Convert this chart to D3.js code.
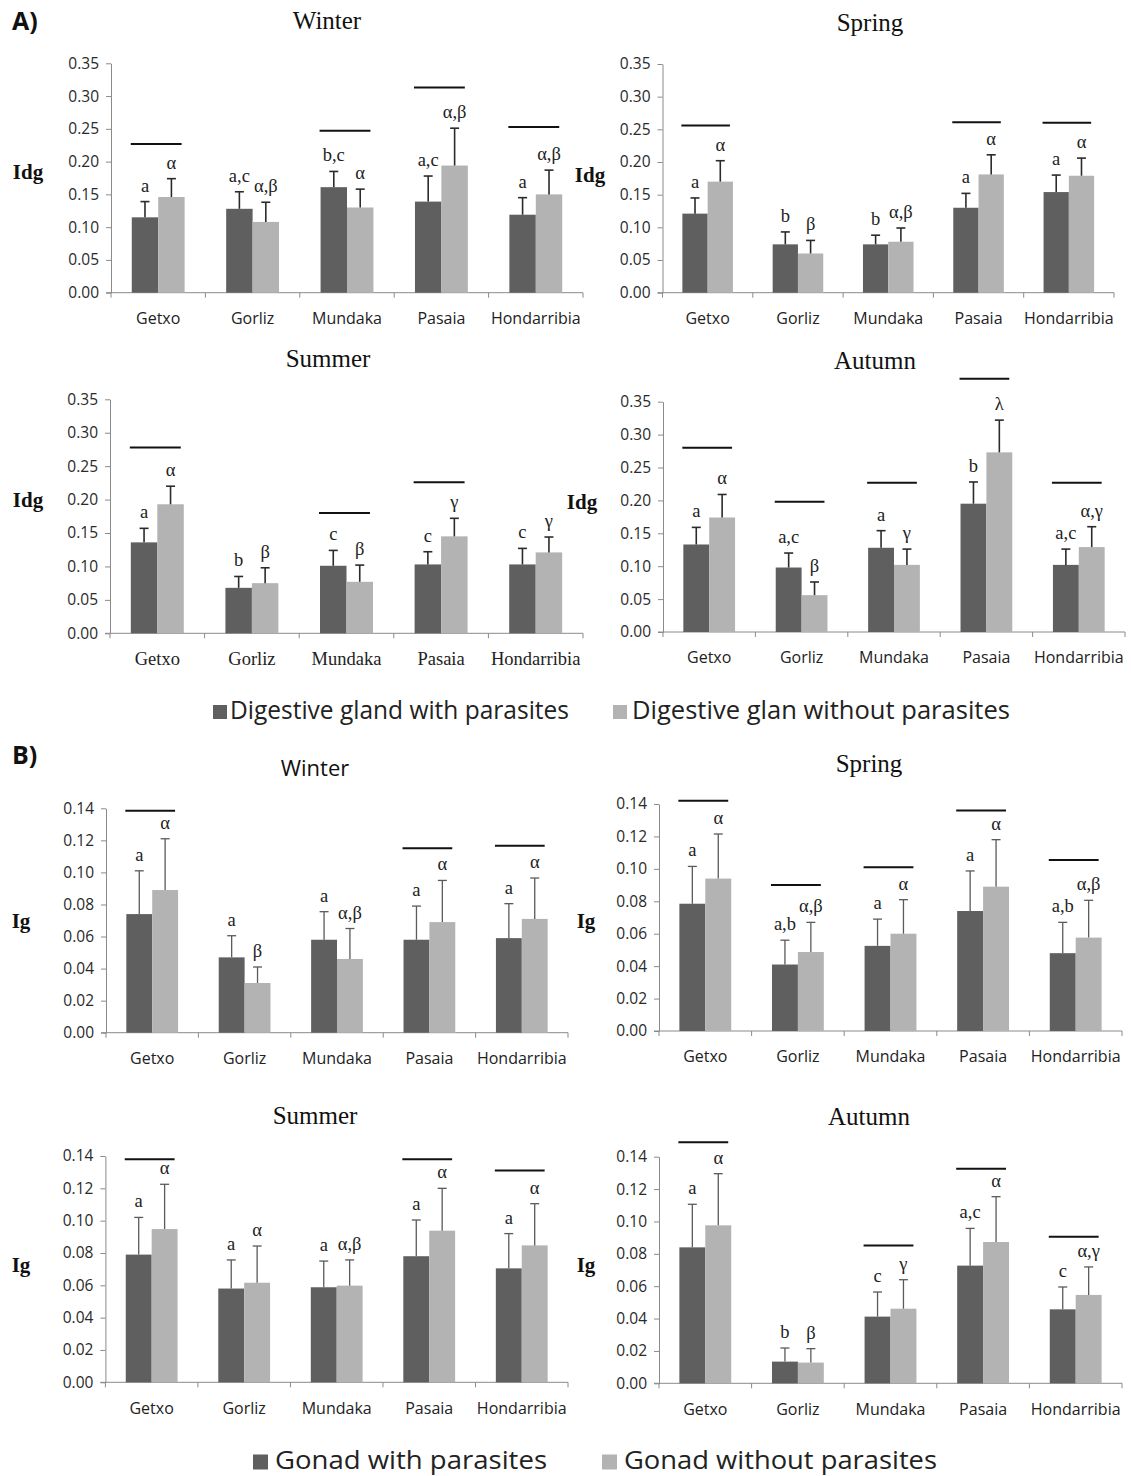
<!DOCTYPE html>
<html>
<head>
<meta charset="utf-8">
<script src="https://cdn.jsdelivr.net/npm/d3@7"></script>
<style>
  body { margin: 0; background: #fff; }
  svg { display: block; }
</style>
</head>
<body>
<div id="container"></div>
<script>
const sites = ["Getxo", "Gorliz", "Mundaka", "Pasaia", "Hondarribia"];
const seasons = ["Winter", "Spring", "Summer", "Autumn"];
const groups = ["with", "without"];

// A) Idg, one row per season (Winter, Spring, Summer, Autumn)
const idgWith = [
  [0.115, 0.128, 0.161, 0.139, 0.119],
  [0.121, 0.074, 0.074, 0.130, 0.154],
  [0.136, 0.068, 0.101, 0.103, 0.103],
  [0.133, 0.098, 0.128, 0.195, 0.102]
];
const idgWithSd = [
  [0.024, 0.026, 0.024, 0.039, 0.026],
  [0.024, 0.019, 0.014, 0.022, 0.026],
  [0.021, 0.017, 0.023, 0.019, 0.024],
  [0.026, 0.022, 0.026, 0.033, 0.024]
];
const idgWithout = [
  [0.146, 0.108, 0.130, 0.194, 0.150],
  [0.170, 0.060, 0.078, 0.181, 0.179],
  [0.193, 0.075, 0.077, 0.145, 0.121],
  [0.174, 0.056, 0.102, 0.273, 0.129]
];
const idgWithoutSd = [
  [0.028, 0.030, 0.028, 0.057, 0.037],
  [0.032, 0.020, 0.021, 0.030, 0.027],
  [0.027, 0.023, 0.025, 0.027, 0.023],
  [0.035, 0.020, 0.024, 0.049, 0.031]
];
const idgLettersWith = [
  ["a", "a,c", "b,c", "a,c", "a"],
  ["a", "b", "b", "a", "a"],
  ["a", "b", "c", "c", "c"],
  ["a", "a,c", "a", "b", "a,c"]
];
const idgLettersWithout = [
  ["α", "α,β", "α", "α,β", "α,β"],
  ["α", "β", "α,β", "α", "α"],
  ["α", "β", "β", "γ", "γ"],
  ["α", "β", "γ", "λ", "α,γ"]
];
const idgBrackets = [
  [0.227, null, 0.247, 0.313, 0.253],
  [0.256, null, null, 0.261, 0.260],
  [0.278, null, 0.180, 0.226, null],
  [0.280, 0.198, 0.227, 0.385, 0.227]
];

// B) Ig
const igWith = [
  [0.074, 0.047, 0.058, 0.058, 0.059],
  [0.0785, 0.041, 0.0525, 0.074, 0.048],
  [0.079, 0.058, 0.0588, 0.078, 0.0705],
  [0.084, 0.0134, 0.0412, 0.0727, 0.0457]
];
const igWithSd = [
  [0.027, 0.0135, 0.0175, 0.021, 0.0215],
  [0.023, 0.015, 0.0165, 0.0247, 0.019],
  [0.023, 0.0177, 0.0162, 0.0224, 0.0215],
  [0.0266, 0.0084, 0.0152, 0.023, 0.0138]
];
const igWithout = [
  [0.089, 0.031, 0.046, 0.069, 0.071],
  [0.094, 0.0487, 0.060, 0.089, 0.0576],
  [0.0948, 0.0616, 0.0598, 0.0938, 0.0847],
  [0.0976, 0.0128, 0.0461, 0.0873, 0.0546]
];
const igWithoutSd = [
  [0.032, 0.010, 0.019, 0.026, 0.0255],
  [0.0275, 0.0183, 0.021, 0.029, 0.023],
  [0.0277, 0.0227, 0.0159, 0.0262, 0.0258],
  [0.0319, 0.0086, 0.0179, 0.028, 0.0173]
];
const igLettersWith = [
  ["a", "a", "a", "a", "a"],
  ["a", "a,b", "a", "a", "a,b"],
  ["a", "a", "a", "a", "a"],
  ["a", "b", "c", "a,c", "c"]
];
const igLettersWithout = [
  ["α", "β", "α,β", "α", "α"],
  ["α", "α,β", "α", "α", "α,β"],
  ["α", "α", "α,β", "α", "α"],
  ["α", "β", "γ", "α", "α,γ"]
];
const igBrackets = [
  [0.1385, null, null, 0.115, 0.1167],
  [0.142, 0.090, 0.101, 0.136, 0.1055],
  [0.138, null, null, 0.138, 0.131],
  [0.149, null, 0.0852, 0.1326, 0.0906]
];

const idgTicks = [0, 0.05, 0.10, 0.15, 0.20, 0.25, 0.30, 0.35];
const igTicks = [0, 0.02, 0.04, 0.06, 0.08, 0.10, 0.12, 0.14];
const legendA = ["Digestive gland with parasites", "Digestive glan without parasites"];
const legendB = ["Gonad with parasites", "Gonad without parasites"];

const color = d3.scaleOrdinal().domain(groups).range(["#5f5f5f", "#b3b3b3"]);
const SERIF = "'Liberation Serif', 'Times New Roman', serif";
const SANS = "'Open Sans', 'DejaVu Sans', sans-serif";

// panel frames (pixel boxes), one per season
const framesA = [
  {x0: 111, x1: 583, top: 63.3, bot: 292.7, tx: 327, ty: 23, lx: 28, ly: 174, titleFont: SERIF, catFont: SANS},
  {x0: 662.5, x1: 1114, top: 64, bot: 292.7, tx: 870, ty: 25, lx: 590, ly: 177, titleFont: SERIF, catFont: SANS},
  {x0: 110, x1: 583, top: 399.3, bot: 633.3, tx: 328, ty: 361, lx: 28, ly: 502, titleFont: SERIF, catFont: SERIF},
  {x0: 663, x1: 1125, top: 401.7, bot: 632, tx: 875, ty: 363, lx: 582, ly: 504, titleFont: SERIF, catFont: SANS}
];
const framesB = [
  {x0: 106, x1: 568, top: 808.3, bot: 1032.7, tx: 315, ty: 770, lx: 21, ly: 923, titleFont: SANS, catFont: SANS},
  {x0: 659, x1: 1122, top: 804, bot: 1031, tx: 869, ty: 766, lx: 586, ly: 923, titleFont: SERIF, catFont: SANS},
  {x0: 105.4, x1: 568, top: 1156, bot: 1382.3, tx: 315, ty: 1118, lx: 21, ly: 1267, titleFont: SERIF, catFont: SANS},
  {x0: 659, x1: 1122, top: 1156.7, bot: 1383.3, tx: 869, ty: 1119, lx: 586, ly: 1267, titleFont: SERIF, catFont: SANS}
];

const W = 1131, H = 1476;
const svg = d3.select("#container").append("svg")
  .attr("width", W)
  .attr("height", H);

function drawPanel(f, title, yLabel, ticks, withV, withSd, withoutV, withoutSd, lw, lwo, brackets, errColor, errWidth) {
  const g = svg.append("g");

  const x = d3.scaleBand().domain(sites).range([f.x0, f.x1]).padding(0);
  const inner = d3.scaleBand().domain(groups).range([0, x.bandwidth()])
    .paddingInner(0).paddingOuter(0.786);
  const y = d3.scaleLinear().domain([0, ticks[ticks.length - 1]]).range([f.bot, f.top]);

  const rows = sites.map((s, i) => ({
    site: s,
    with: {v: withV[i], sd: withSd[i], lab: lw[i]},
    without: {v: withoutV[i], sd: withoutSd[i], lab: lwo[i]},
    bracket: brackets[i]
  }));

  // y axis
  const ya = g.append("g")
    .attr("transform", `translate(${f.x0},0)`)
    .call(d3.axisLeft(y).tickValues(ticks).tickFormat(d3.format(".2f")).tickSize(5).tickSizeOuter(0).tickPadding(7));
  ya.select(".domain").attr("stroke", "#8a8a8a");
  ya.selectAll(".tick line").attr("stroke", "#8a8a8a");
  ya.selectAll("text").attr("fill", "#2a2a2a").style("font-family", SANS).style("font-size", "15.5px");

  // x axis line + boundary ticks
  g.append("line")
    .attr("x1", f.x0 - 5).attr("x2", f.x1)
    .attr("y1", f.bot).attr("y2", f.bot)
    .attr("stroke", "#8a8a8a");
  const bounds = sites.map(s => x(s)).concat([f.x1]);
  g.selectAll(".xt").data(bounds).join("line")
    .attr("x1", d => d).attr("x2", d => d)
    .attr("y1", f.bot).attr("y2", f.bot + 5)
    .attr("stroke", "#8a8a8a");

  g.selectAll(".cat").data(sites).join("text")
    .attr("x", d => x(d) + x.bandwidth() / 2)
    .attr("y", f.bot + 27)
    .attr("text-anchor", "middle")
    .attr("dominant-baseline", "middle")
    .style("font-family", f.catFont)
    .style("font-size", f.catFont === SERIF ? "18.5px" : "16px")
    .attr("fill", "#222")
    .text(d => d);

  // bars, error bars, letters
  groups.forEach(k => {
    const cx = d => x(d.site) + inner(k) + inner.bandwidth() / 2;
    g.selectAll(".bar-" + k).data(rows).join("rect")
      .attr("x", d => x(d.site) + inner(k))
      .attr("y", d => y(d[k].v))
      .attr("width", inner.bandwidth())
      .attr("height", d => y(0) - y(d[k].v))
      .attr("fill", color(k));

    g.selectAll(".err-" + k).data(rows).join("line")
      .attr("x1", cx).attr("x2", cx)
      .attr("y1", d => y(d[k].v))
      .attr("y2", d => y(d[k].v + d[k].sd))
      .attr("stroke", errColor).attr("stroke-width", errWidth);
    g.selectAll(".cap-" + k).data(rows).join("line")
      .attr("x1", d => cx(d) - 4.5).attr("x2", d => cx(d) + 4.5)
      .attr("y1", d => y(d[k].v + d[k].sd))
      .attr("y2", d => y(d[k].v + d[k].sd))
      .attr("stroke", errColor).attr("stroke-width", errWidth);

    g.selectAll(".lab-" + k).data(rows).join("text")
      .attr("x", cx)
      .attr("y", d => y(d[k].v + d[k].sd) - 10)
      .attr("text-anchor", "middle")
      .style("font-family", SERIF)
      .style("font-size", "18.5px")
      .attr("fill", "#222")
      .text(d => d[k].lab);
  });

  // significance lines
  g.selectAll(".brk").data(rows.filter(d => d.bracket !== null)).join("line")
    .attr("x1", d => x(d.site) + inner("with") - 1)
    .attr("x2", d => x(d.site) + inner("without") + inner.bandwidth() - 3)
    .attr("y1", d => y(d.bracket)).attr("y2", d => y(d.bracket))
    .attr("stroke", "#111").attr("stroke-width", 2);

  // title + y label
  g.append("text")
    .attr("x", f.tx).attr("y", f.ty)
    .attr("text-anchor", "middle")
    .attr("dominant-baseline", "middle")
    .style("font-family", f.titleFont)
    .style("font-size", f.titleFont === SERIF ? "25px" : "22px")
    .attr("fill", "#111")
    .text(title);

  g.append("text")
    .attr("x", f.lx).attr("y", f.ly)
    .attr("text-anchor", "middle")
    .attr("dominant-baseline", "middle")
    .style("font-family", SERIF)
    .style("font-weight", "bold")
    .style("font-size", "21px")
    .attr("fill", "#111")
    .text(yLabel);
}

seasons.forEach((s, i) => {
  drawPanel(framesA[i], s, "Idg", idgTicks,
    idgWith[i], idgWithSd[i], idgWithout[i], idgWithoutSd[i],
    idgLettersWith[i], idgLettersWithout[i], idgBrackets[i], "#2b2b2b", 1.6);
  drawPanel(framesB[i], s, "Ig", igTicks,
    igWith[i], igWithSd[i], igWithout[i], igWithoutSd[i],
    igLettersWith[i], igLettersWithout[i], igBrackets[i], "#5a5a5a", 1.3);
});

// panel letters
[["A)", 12, 23], ["B)", 12, 757]].forEach(([t, px, py]) => {
  svg.append("text")
    .attr("x", px).attr("y", py)
    .attr("dominant-baseline", "middle")
    .style("font-family", SANS)
    .style("font-weight", "bold")
    .style("font-size", "25px")
    .attr("fill", "#111")
    .text(t);
});

// legends
function drawLegend(labels, items, cy, size, fontSize) {
  const lg = svg.append("g");
  labels.forEach((lab, i) => {
    const it = items[i];
    lg.append("rect")
      .attr("x", it.sx).attr("y", cy - size / 2)
      .attr("width", size).attr("height", size)
      .attr("fill", color(groups[i]));
    lg.append("text")
      .attr("x", it.tx).attr("y", cy)
      .attr("dominant-baseline", "middle")
      .attr("textLength", it.tw)
      .attr("lengthAdjust", "spacingAndGlyphs")
      .style("font-family", SANS)
      .style("font-size", fontSize + "px")
      .attr("fill", "#222")
      .text(lab);
  });
}
drawLegend(legendA, [{sx: 213, tx: 230, tw: 339}, {sx: 613, tx: 632, tw: 378}], 712, 14, 26);
drawLegend(legendB, [{sx: 253, tx: 275, tw: 272}, {sx: 602, tx: 624, tw: 313}], 1462, 15, 26);
</script>
</body>
</html>
